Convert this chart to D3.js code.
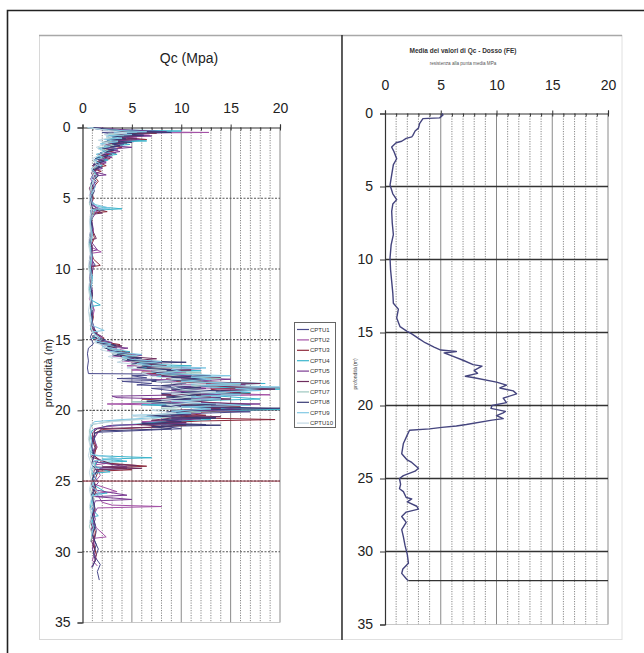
<!DOCTYPE html>
<html><head><meta charset="utf-8">
<script src="https://cdn.jsdelivr.net/npm/d3@7"></script>
<style>
html,body{margin:0;padding:0;background:#fff;}
svg{display:block;font-family:"Liberation Sans",Arial,sans-serif;}
</style></head>
<body><svg id="c" width="644" height="653"></svg>
<script>
// ---------------- DATA ----------------
const seriesNames = ["CPTU1","CPTU2","CPTU3","CPTU4","CPTU5","CPTU6","CPTU7","CPTU8","CPTU9","CPTU10"];
const seriesColors = ["#4a4a8c","#a452a6","#8e2a3c","#3bb5cc","#7b3c93","#6e2e5e","#9cc6bf","#383a74","#80c8e4","#c3d9e4"];
const xTicks = [0,5,10,15,20];
const yTicks = [0,5,10,15,20,25,30,35];

// [depth m, qc MPa]
const cptu1 = [[0,1.0],[0.15,2.5],[0.3,4.8],[0.35,2.0],[0.5,3.5],[0.6,5.5],[0.7,2.8],[0.9,3.8],[1.0,2.2],[1.2,4.2],[1.3,2.4],[1.5,3.6],[1.7,2.0],[1.9,3.0],[2.1,1.6],[2.3,2.4],[2.6,1.2],[2.8,2.0],[3.0,1.1],[3.3,1.6],[3.5,0.9],[3.8,1.4],[4.3,0.8],[4.8,1.0],[5.3,0.7],[5.75,1.6],[5.85,0.8],[7.0,0.9],[7.8,0.7],[8.5,1.0],[9.2,0.8],[9.75,1.3],[9.85,0.7],[11.2,0.8],[12.0,0.9],[12.8,1.1],[13.5,0.9],[14.2,1.2],[14.8,0.8],[15.3,1.1],[15.6,0.6],[16.0,0.5],[16.5,0.6],[17.0,0.5],[17.4,0.6],[17.45,10.5],[17.55,5.0],[17.7,6.5],[17.75,3.5],[17.85,9.5],[17.95,4.0],[18.1,7.0],[18.2,5.5],[18.35,11.0],[18.45,7.0],[18.6,9.0],[18.7,12.5],[18.8,8.0],[19.0,10.0],[19.1,14.0],[19.2,9.0],[19.4,12.0],[19.5,7.0],[19.65,14.0],[19.75,10.0],[19.9,16.0],[20.0,11.0],[20.1,17.0],[20.2,12.0],[20.35,9.0],[20.5,13.5],[20.6,9.0],[20.75,11.0],[20.85,6.0],[21.0,12.5],[21.1,8.0],[21.3,10.0],[21.45,5.0],[21.55,1.5],[22.0,1.2],[22.5,1.4],[23.0,1.0],[23.5,1.6],[24.0,1.2],[24.1,4.5],[24.2,1.5],[25.0,0.9],[25.6,1.2],[26.2,1.0],[27.0,1.3],[27.8,1.1],[28.5,1.4],[29.2,1.2],[29.8,1.6],[30.4,1.3],[30.9,1.8],[31.4,1.5],[32.0,1.7]];
const cptu2 = [[0,0.6],[0.15,1.8],[0.3,5.0],[0.35,12.8],[0.4,4.5],[0.55,6.8],[0.62,3.0],[0.75,5.5],[0.85,3.5],[1.0,5.2],[1.1,2.5],[1.3,4.0],[1.45,2.2],[1.6,3.6],[1.8,1.8],[2.0,2.8],[2.2,1.5],[2.4,2.4],[2.6,1.1],[2.8,1.9],[3.0,1.0],[3.3,1.6],[3.6,0.8],[4.2,1.2],[4.8,0.7],[5.5,0.9],[5.85,2.2],[5.95,0.9],[6.6,0.8],[7.3,1.1],[7.9,0.7],[8.5,1.0],[8.8,1.9],[8.9,0.8],[9.6,1.0],[10.4,0.8],[11.2,0.9],[12.1,0.7],[12.9,1.2],[13.7,0.9],[14.4,1.3],[14.9,1.6],[15.2,2.8],[15.35,1.8],[15.6,3.5],[15.8,2.5],[16.0,4.2],[16.15,3.0],[16.3,5.2],[16.5,4.0],[16.7,6.8],[16.85,4.5],[17.0,7.0],[17.15,5.0],[17.3,10.5],[17.4,6.5],[17.6,8.0],[17.75,12.0],[17.85,7.5],[18.0,10.0],[18.1,13.0],[18.25,9.0],[18.4,11.0],[18.5,17.5],[18.6,12.0],[18.8,14.0],[18.9,19.0],[19.0,11.0],[19.15,13.5],[19.3,8.0],[19.45,10.0],[19.55,2.5],[19.65,9.0],[19.8,12.5],[19.9,15.0],[20.05,10.0],[20.2,12.0],[20.35,7.5],[20.5,9.5],[20.65,11.0],[20.8,6.0],[20.95,8.5],[21.05,4.0],[21.2,2.0],[21.4,1.8],[22.0,1.1],[22.6,1.5],[23.2,1.0],[23.75,2.5],[23.85,1.3],[24.6,1.8],[25.2,1.1],[25.75,3.5],[25.85,1.4],[26.5,2.0],[26.7,3.0],[26.8,8.0],[26.9,1.5],[27.6,1.0],[28.3,1.4],[28.95,2.4],[29.05,1.1],[30.0,1.3],[30.6,1.0],[31.0,1.5]];
const cptu3 = [[0,0.8],[0.2,3.0],[0.4,7.5],[0.45,3.0],[0.6,6.0],[0.7,4.0],[0.85,6.5],[0.95,3.2],[1.1,4.5],[1.25,2.6],[1.4,4.0],[1.6,2.4],[1.8,3.4],[2.0,1.8],[2.2,2.8],[2.45,1.5],[2.7,2.4],[2.9,1.0],[3.1,1.9],[3.3,1.0],[3.8,1.6],[4.4,0.9],[5.0,1.1],[5.7,0.8],[5.95,2.5],[6.05,1.0],[7.0,0.9],[7.8,1.2],[8.5,0.8],[9.3,1.1],[9.75,1.8],[9.85,0.9],[10.9,0.8],[11.8,1.0],[12.6,0.8],[13.4,1.1],[14.1,0.9],[14.6,1.5],[14.9,2.2],[15.1,1.6],[15.35,3.8],[15.5,2.6],[15.7,3.0],[15.9,4.8],[16.05,3.5],[16.25,5.5],[16.4,4.2],[16.6,7.0],[16.75,5.0],[16.9,6.5],[17.05,5.5],[17.2,9.0],[17.3,6.0],[17.45,8.0],[17.6,11.0],[17.75,8.5],[17.9,12.0],[18.0,9.5],[18.15,16.0],[18.25,11.0],[18.4,20.0],[18.5,13.0],[18.65,14.0],[18.8,17.0],[18.9,11.0],[19.05,13.0],[19.2,6.0],[19.35,9.5],[19.5,13.5],[19.6,10.0],[19.75,16.0],[19.85,12.0],[19.95,20.0],[20.05,14.0],[20.2,10.0],[20.35,12.5],[20.5,9.0],[20.65,19.5],[20.75,12.0],[20.9,8.0],[21.05,10.5],[21.2,7.0],[21.35,2.0],[21.6,1.3],[22.0,1.0],[22.6,1.4],[23.2,1.2],[23.7,2.0],[23.95,6.5],[24.05,3.0],[24.2,5.0],[24.3,1.6],[25.0,1.2],[25.7,1.4],[26.3,1.0],[27.0,1.2],[27.8,0.9],[28.6,1.3],[29.4,1.1],[30.2,1.4],[30.8,1.2]];
const cptu4 = [[0,0.5],[0.15,2.0],[0.25,10.0],[0.32,3.5],[0.45,5.0],[0.55,2.5],[0.7,4.5],[0.8,2.5],[0.95,6.5],[1.05,3.0],[1.2,4.8],[1.35,2.2],[1.5,3.5],[1.7,2.0],[1.9,3.5],[2.1,1.4],[2.3,2.6],[2.5,1.4],[2.7,2.0],[3.0,1.0],[3.4,1.4],[4.0,0.8],[4.6,1.0],[5.2,0.9],[5.6,1.5],[5.75,4.0],[5.85,1.2],[6.6,0.9],[7.4,1.0],[8.2,0.7],[9.0,1.0],[9.8,0.8],[10.6,1.0],[11.4,0.7],[12.2,0.9],[12.55,1.8],[12.65,0.9],[13.6,1.0],[14.3,0.8],[14.7,1.4],[14.9,1.0],[15.15,2.6],[15.3,1.8],[15.5,3.5],[15.65,2.5],[15.85,4.8],[16.0,3.5],[16.2,5.2],[16.35,4.0],[16.55,6.5],[16.7,5.0],[16.85,11.0],[16.95,6.0],[17.1,8.0],[17.2,12.0],[17.3,7.0],[17.45,9.5],[17.6,7.5],[17.75,13.5],[17.85,10.5],[18.0,12.0],[18.1,18.5],[18.2,11.0],[18.35,13.0],[18.5,20.0],[18.6,15.0],[18.75,17.0],[18.9,12.0],[19.05,15.0],[19.2,18.0],[19.35,10.0],[19.5,12.0],[19.6,6.0],[19.7,9.0],[19.85,13.0],[19.95,20.0],[20.05,12.0],[20.2,9.0],[20.35,7.5],[20.5,9.5],[20.65,13.0],[20.8,8.0],[20.95,6.0],[21.1,2.5],[21.4,1.0],[21.7,0.8],[22.2,1.0],[22.8,0.7],[23.2,1.2],[23.35,7.0],[23.45,2.0],[23.6,4.5],[23.7,1.3],[24.0,1.3],[24.35,2.8],[24.45,1.0],[25.3,1.2],[25.85,2.5],[25.95,1.0],[26.9,0.8],[27.45,1.6],[27.55,0.9],[28.3,1.2],[28.6,1.0]];
const cptu5 = [[0,1.2],[0.15,4.0],[0.3,8.5],[0.35,3.5],[0.5,5.0],[0.6,7.0],[0.7,4.0],[0.85,5.8],[0.95,3.0],[1.1,4.2],[1.25,2.4],[1.4,5.0],[1.55,2.6],[1.7,3.8],[1.9,1.9],[2.1,3.0],[2.3,1.6],[2.5,2.4],[2.7,1.2],[2.9,2.0],[3.1,1.0],[3.35,2.4],[3.45,1.0],[4.1,1.3],[4.7,0.8],[5.3,1.0],[5.9,1.5],[6.5,0.9],[7.2,1.1],[8.0,0.8],[8.65,1.5],[8.75,0.9],[9.9,1.1],[10.7,0.8],[11.6,1.0],[12.5,0.8],[13.3,1.0],[14.0,0.8],[14.5,1.2],[14.8,2.0],[15.0,1.5],[15.2,3.0],[15.4,2.0],[15.6,4.6],[15.75,3.0],[15.95,4.0],[16.1,6.0],[16.25,4.5],[16.45,5.5],[16.6,8.0],[16.75,6.0],[16.9,7.0],[17.05,12.0],[17.15,8.5],[17.35,9.5],[17.5,11.0],[17.6,8.0],[17.8,15.0],[17.9,12.0],[18.05,13.0],[18.2,16.5],[18.3,10.0],[18.45,12.5],[18.6,9.0],[18.75,11.5],[18.85,14.0],[19.0,3.0],[19.1,3.5],[19.25,11.5],[19.4,9.0],[19.55,18.0],[19.65,12.0],[19.8,14.0],[19.95,16.0],[20.05,10.5],[20.2,12.0],[20.35,7.5],[20.5,9.0],[20.6,12.0],[20.75,8.5],[20.9,10.5],[21.05,3.0],[21.3,1.2],[21.8,1.2],[22.4,0.9],[23.0,1.2],[23.6,1.0],[24.0,4.5],[24.1,1.8],[24.6,1.1],[25.1,1.6],[25.6,1.0],[26.0,4.5],[26.1,1.3],[26.3,5.0],[26.4,1.3],[27.0,1.0],[27.7,1.3],[28.4,0.9],[29.1,1.2],[29.8,1.0],[30.5,1.4],[31.1,0.9]];
const cptu6 = [[0,0.7],[0.15,2.2],[0.35,6.0],[0.42,3.0],[0.55,4.8],[0.65,2.6],[0.8,5.5],[0.9,3.0],[1.05,3.8],[1.2,2.0],[1.35,3.2],[1.5,2.0],[1.7,2.6],[1.9,1.6],[2.1,2.4],[2.3,1.2],[2.5,1.8],[2.7,1.0],[2.9,1.6],[3.2,0.9],[3.6,1.2],[4.3,0.7],[4.9,1.0],[5.6,0.8],[6.05,2.0],[6.15,0.8],[7.1,0.9],[7.85,1.4],[7.95,0.8],[8.6,1.0],[9.4,0.8],[10.2,1.0],[11.0,0.8],[11.9,0.9],[12.8,0.8],[13.6,1.0],[14.4,0.9],[14.8,1.8],[15.0,1.2],[15.25,2.4],[15.45,4.0],[15.6,2.8],[15.8,3.4],[16.0,5.0],[16.15,3.8],[16.35,7.5],[16.5,5.0],[16.7,6.0],[16.85,8.5],[17.0,6.5],[17.15,11.0],[17.25,7.0],[17.4,9.0],[17.55,8.0],[17.7,14.0],[17.8,9.5],[17.95,11.0],[18.1,18.0],[18.2,13.0],[18.35,15.0],[18.5,19.5],[18.6,14.0],[18.75,16.0],[18.9,8.0],[19.05,11.0],[19.2,15.0],[19.3,11.0],[19.45,13.0],[19.6,17.0],[19.7,12.0],[19.85,14.0],[20.0,9.0],[20.15,11.5],[20.3,8.0],[20.45,14.0],[20.55,9.0],[20.7,7.0],[20.85,10.5],[21.0,5.5],[21.15,9.0],[21.3,1.5],[21.6,1.0],[22.1,1.0],[22.7,1.3],[23.3,0.9],[23.8,3.0],[23.9,5.5],[24.0,2.0],[24.1,6.0],[24.2,1.2],[25.2,0.9],[25.8,1.3],[26.4,1.0],[27.1,1.2],[27.8,0.8],[28.5,1.1],[29.2,0.9],[29.8,1.2]];
const cptu7 = [[0,0.9],[0.15,3.0],[0.35,5.5],[0.45,2.6],[0.6,4.2],[0.75,2.4],[0.9,3.6],[1.05,2.0],[1.25,3.2],[1.45,1.6],[1.65,2.6],[1.9,1.4],[2.1,2.2],[2.4,1.1],[2.7,1.6],[3.0,1.0],[3.5,1.5],[4.0,0.8],[4.7,1.0],[5.4,0.7],[6.0,1.1],[6.8,0.8],[7.6,0.9],[8.4,0.7],[9.2,0.9],[10.0,0.7],[10.8,0.9],[11.7,0.7],[12.6,0.9],[13.4,0.7],[14.2,0.9],[14.7,1.3],[15.0,2.0],[15.2,1.4],[15.45,3.2],[15.6,2.2],[15.8,4.0],[15.95,3.0],[16.15,5.5],[16.3,4.0],[16.5,4.8],[16.65,7.5],[16.8,5.5],[16.95,10.0],[17.05,6.0],[17.2,8.0],[17.35,12.0],[17.45,8.0],[17.6,10.0],[17.75,14.0],[17.85,9.0],[18.0,11.5],[18.15,16.0],[18.25,11.0],[18.4,12.0],[18.55,9.5],[18.7,14.5],[18.8,10.0],[18.95,11.5],[19.1,8.5],[19.25,12.0],[19.4,5.0],[19.55,11.0],[19.7,13.0],[19.85,8.0],[20.0,10.0],[20.15,12.0],[20.3,7.0],[20.45,9.0],[20.6,6.5],[20.75,3.0],[21.0,1.0],[21.4,0.7],[22.1,0.7],[22.7,0.9],[23.3,0.8],[23.9,1.3],[24.4,0.9],[25.0,1.1],[25.6,0.8],[26.3,1.2],[27.0,0.8],[27.6,1.0],[28.2,0.7],[28.8,1.0],[29.3,0.8]];
const cptu8 = [[0,1.1],[0.2,3.5],[0.35,9.0],[0.42,4.0],[0.55,6.2],[0.65,3.0],[0.8,4.4],[0.9,2.5],[1.05,5.0],[1.15,3.0],[1.3,3.8],[1.45,2.0],[1.6,3.2],[1.8,1.8],[2.0,2.6],[2.2,1.3],[2.4,2.2],[2.6,1.1],[2.8,1.8],[3.0,1.0],[3.4,1.6],[3.9,0.9],[4.5,1.2],[5.1,0.8],[5.7,1.0],[6.3,0.8],[7.0,1.0],[7.8,0.7],[8.6,0.9],[9.4,0.7],[10.2,0.9],[11.0,0.7],[11.8,1.0],[12.6,0.8],[13.3,1.0],[14.0,0.9],[14.5,1.5],[14.8,1.0],[15.0,2.3],[15.2,1.5],[15.4,3.4],[15.55,2.2],[15.75,2.8],[15.95,4.5],[16.1,3.0],[16.3,6.0],[16.45,4.0],[16.6,10.5],[16.7,5.0],[16.85,7.0],[17.0,5.5],[17.15,9.5],[17.25,7.0],[17.4,8.0],[17.55,13.0],[17.65,9.0],[17.8,12.5],[17.95,7.0],[18.1,10.5],[18.25,8.0],[18.4,12.0],[18.5,9.0],[18.65,15.0],[18.75,10.0],[18.9,12.0],[19.05,8.5],[19.2,11.0],[19.35,6.5],[19.5,9.0],[19.6,13.5],[19.7,8.0],[19.85,20.0],[19.95,13.0],[20.1,8.5],[20.25,11.0],[20.4,6.5],[20.55,13.5],[20.65,8.0],[20.8,10.0],[20.95,6.0],[21.05,14.0],[21.15,7.0],[21.3,9.0],[21.45,2.0],[21.6,1.2],[22.0,1.2],[22.6,0.9],[23.2,1.2],[23.8,0.9],[24.3,1.5],[24.8,1.0],[25.4,1.3],[26.0,0.9],[26.7,1.2],[27.4,1.0],[28.1,1.3],[28.8,1.0],[29.5,1.4],[30.1,1.1],[30.6,1.3],[31.1,1.0]];
const cptu9 = [[0,0.6],[0.15,2.0],[0.3,6.5],[0.38,3.2],[0.5,5.0],[0.6,2.4],[0.75,4.0],[0.85,2.2],[1.0,3.6],[1.15,1.8],[1.35,2.8],[1.5,1.6],[1.7,2.4],[1.9,1.4],[2.1,2.0],[2.3,1.2],[2.6,1.8],[2.9,0.9],[3.2,1.3],[3.6,0.9],[4.2,1.3],[4.8,0.8],[5.4,1.0],[5.7,2.8],[5.8,0.9],[6.8,0.8],[7.6,1.0],[8.4,0.8],[9.2,0.9],[10.0,0.8],[10.8,1.0],[11.6,0.8],[12.4,1.0],[13.2,0.8],[14.0,1.0],[14.35,2.2],[14.45,1.0],[14.9,1.8],[15.1,1.3],[15.3,2.9],[15.5,2.0],[15.7,3.8],[15.85,2.8],[16.05,6.0],[16.2,4.0],[16.4,5.0],[16.55,8.0],[16.7,5.5],[16.85,7.0],[17.0,12.5],[17.1,9.0],[17.25,10.0],[17.4,7.5],[17.55,15.0],[17.65,11.0],[17.8,13.0],[17.95,10.0],[18.1,16.0],[18.2,12.0],[18.35,20.0],[18.45,15.5],[18.6,18.0],[18.75,12.0],[18.9,16.0],[19.05,10.5],[19.2,14.0],[19.35,9.0],[19.5,12.0],[19.65,17.0],[19.75,10.0],[19.9,13.0],[20.05,9.0],[20.2,11.0],[20.35,5.0],[20.5,8.0],[20.65,4.0],[20.8,1.2],[21.2,0.8],[21.9,0.8],[22.5,1.0],[23.1,0.8],[23.45,4.0],[23.55,1.2],[24.2,0.9],[24.8,1.4],[25.4,0.9],[25.95,2.0],[26.05,0.9],[26.9,1.1],[27.6,0.8],[28.3,1.1],[28.9,0.9]];
const cptu10 = [[0,0.5],[0.2,2.5],[0.4,4.5],[0.5,2.2],[0.7,3.0],[0.9,1.6],[1.1,2.6],[1.4,1.4],[1.8,2.2],[2.2,1.0],[2.6,1.4],[3.0,0.9],[3.6,1.2],[4.3,0.8],[5.0,0.7],[5.8,0.9],[6.6,0.7],[7.4,0.8],[8.2,0.6],[9.0,0.8],[9.8,0.6],[10.6,0.8],[11.4,0.6],[12.2,0.8],[13.0,0.6],[13.8,0.8],[14.5,1.0],[14.9,1.6],[15.2,1.2],[15.5,2.5],[15.7,1.8],[16.0,3.5],[16.2,2.6],[16.4,4.5],[16.6,3.5],[16.8,6.0],[17.0,4.5],[17.2,8.5],[17.35,6.0],[17.6,7.0],[17.8,10.0],[17.95,7.5],[18.15,12.5],[18.3,9.0],[18.5,10.0],[18.7,13.5],[18.85,9.0],[19.05,11.0],[19.25,8.0],[19.45,12.0],[19.6,8.5],[19.8,10.0],[20.0,7.0],[20.2,9.5],[20.4,5.0],[20.6,7.0],[20.8,3.0],[21.0,0.8],[21.5,0.8],[22.0,0.6],[22.6,0.8],[23.2,0.6],[23.8,0.9],[24.4,0.7],[25.0,0.9],[25.6,0.7],[26.2,0.9],[26.8,0.7],[27.4,0.9],[28.0,0.7]];
const cptuSeries = [cptu1,cptu2,cptu3,cptu4,cptu5,cptu6,cptu7,cptu8,cptu9,cptu10];
// stray horizontal trace of CPTU3 at 25 m (qc 0 -> 20)
const cptu3Stray = [[25,0],[25,20]];

// mean profile (right chart)
const meanQc = [[0,5.1],[0.1,5.2],[0.3,4.9],[0.35,3.4],[0.7,3.1],[1.0,3.0],[1.2,2.7],[1.5,2.5],[1.6,2.4],[1.7,1.9],[1.9,1.5],[2.0,1.0],[2.3,0.6],[2.6,0.8],[3.1,1.05],[3.5,0.75],[4.2,0.6],[4.9,0.45],[5.5,0.7],[5.9,1.05],[6.2,0.7],[6.7,0.6],[7.5,0.65],[8.3,0.75],[9.0,0.55],[9.9,0.45],[10.7,0.5],[11.5,0.6],[12.3,0.7],[13.0,0.75],[13.4,1.2],[14.0,1.05],[14.6,1.35],[14.9,1.95],[15.1,2.4],[15.4,3.0],[15.7,3.6],[16.0,4.4],[16.2,5.0],[16.3,6.4],[16.4,5.3],[16.6,6.0],[16.9,7.0],[17.2,7.9],[17.3,8.7],[17.6,8.0],[17.8,8.3],[18.0,7.2],[18.1,8.0],[18.4,10.0],[18.6,10.9],[18.8,10.3],[19.0,11.5],[19.2,11.8],[19.5,10.6],[19.8,10.9],[20.0,9.6],[20.2,9.5],[20.4,10.8],[20.5,10.6],[20.7,10.0],[20.9,10.6],[21.0,9.6],[21.3,7.3],[21.4,6.4],[21.5,5.1],[21.6,4.0],[21.7,2.2],[22.1,1.95],[22.6,1.65],[23.3,1.5],[23.7,1.95],[23.9,2.4],[24.3,3.0],[24.5,2.7],[24.8,1.65],[25.0,1.3],[25.4,1.4],[25.7,1.3],[25.9,1.65],[26.3,1.9],[26.4,2.4],[26.6,2.0],[26.9,2.85],[27.1,3.0],[27.3,1.9],[27.6,1.5],[28.0,1.9],[28.5,1.5],[29.0,1.65],[29.6,1.8],[30.2,2.0],[30.8,2.1],[31.2,1.6],[31.5,1.5],[31.9,1.95],[32.0,2.1]];
const meanTail = [[32.0,2.1],[32.0,20]];

// ---------------- DRAW ----------------
const svg = d3.select("#c");
const FONT = '"Liberation Sans",Arial,sans-serif';

svg.append("path").attr("d","M7.5,653 V10.5 H644").attr("fill","none").attr("stroke","#222").attr("stroke-width",1.6);
svg.append("rect").attr("x",39.5).attr("y",35.5).attr("width",302).attr("height",604).attr("fill","#fff").attr("stroke","#d8d8d8");
svg.append("rect").attr("x",342).attr("y",35.5).attr("width",280).attr("height",604).attr("fill","#fff").attr("stroke","#e0e0e0");
svg.append("line").attr("x1",39).attr("x2",622).attr("y1",35.5).attr("y2",35.5).attr("stroke","#a8a8a8").attr("stroke-width",1.5);
svg.append("line").attr("x1",342).attr("x2",342).attr("y1",35).attr("y2",640).attr("stroke","#222").attr("stroke-width",1.4);

function panel(opt){
  const x = d3.scaleLinear().domain([0,20]).range(opt.xr);
  const y = d3.scaleLinear().domain([0,35]).range(opt.yr);
  const g = svg.append("g");
  const minor = d3.range(1,21);
  g.selectAll(".vg").data(minor).join("line")
    .attr("x1",d=>x(d)).attr("x2",d=>x(d)).attr("y1",y(0)).attr("y2",y(35))
    .attr("stroke",d=>d%5===0?"#8a8a8a":"#6a6a6a")
    .attr("stroke-width",d=>d%5===0?1:0.8)
    .attr("stroke-dasharray",d=>d%5===0?null:"1.2,1.3");
  g.selectAll(".hg").data(yTicks.filter(t=>t>0&&t<35)).join("line")
    .attr("x1",x(0)).attr("x2",x(20)).attr("y1",d=>y(d)).attr("y2",d=>y(d))
    .attr("stroke",opt.hColor).attr("stroke-width",opt.hWidth)
    .attr("stroke-dasharray",opt.hDash);
  g.append("line").attr("x1",x(0)).attr("x2",x(20)).attr("y1",y(35)).attr("y2",y(35)).attr("stroke","#bbb").attr("stroke-width",0.8);
  const top = g.append("g").attr("transform",`translate(0,${y(0)})`)
    .call(d3.axisTop(x).tickValues(xTicks).tickSize(3).tickPadding(opt.topPad));
  top.select(".domain").attr("stroke","#333").attr("stroke-width",1.2);
  top.selectAll(".tick line").attr("stroke","#333");
  top.selectAll("text").attr("font-family",FONT).attr("font-size",14).attr("fill","#222");
  g.append("g").attr("transform",`translate(0,${y(0)})`)
    .call(d3.axisBottom(x).tickValues(minor).tickSize(3).tickFormat(""))
    .call(s=>{s.select(".domain").remove(); s.selectAll("line").attr("stroke","#333");});
  const left = g.append("g").attr("transform",`translate(${x(0)},0)`)
    .call(d3.axisLeft(y).tickValues(yTicks).tickSize(5).tickPadding(7));
  left.select(".domain").attr("stroke","#333").attr("stroke-width",1.2);
  left.selectAll(".tick line").attr("stroke","#333");
  left.selectAll("text").attr("font-family",FONT).attr("font-size",14).attr("fill","#222");
  return {x,y,g};
}

// LEFT
const L = panel({xr:[82.5,280],yr:[127.5,622.5],topPad:12,hColor:"#555",hWidth:1.1,hDash:"2,1.5"});
const lineL = d3.line().x(d=>L.x(d[1])).y(d=>L.y(d[0]));
cptuSeries.forEach((s,i)=>{
  L.g.append("path").datum(s).attr("d",lineL).attr("fill","none")
    .attr("stroke",seriesColors[i]).attr("stroke-width",1).attr("stroke-linejoin","round");
});
L.g.append("path").datum(cptu3Stray).attr("d",lineL).attr("fill","none").attr("stroke",seriesColors[2]).attr("stroke-width",1);

svg.append("text").attr("x",189).attr("y",63).attr("text-anchor","middle")
  .attr("font-family",FONT).attr("font-size",14).attr("fill","#222").text("Qc (Mpa)");
svg.append("text").attr("transform","translate(52,373) rotate(-90)").attr("text-anchor","middle")
  .attr("font-family",FONT).attr("font-size",11).attr("fill","#222").text("profondità (m)");

const lg = svg.append("g");
lg.append("rect").attr("x",294.5).attr("y",322.5).attr("width",41).attr("height",105).attr("fill","#fff").attr("stroke","#666").attr("stroke-width",1);
seriesNames.forEach((n,i)=>{
  const yy = 329.5 + i*10.4;
  lg.append("line").attr("x1",297).attr("x2",309).attr("y1",yy).attr("y2",yy).attr("stroke",seriesColors[i]).attr("stroke-width",1.2);
  lg.append("text").attr("x",310).attr("y",yy+2).attr("font-family",FONT).attr("font-size",6).attr("fill","#333").text(n);
});

// RIGHT
const R = panel({xr:[385,608],yr:[113.5,624.5],topPad:21,hColor:"#333",hWidth:1.3,hDash:null});
const lineR = d3.line().x(d=>R.x(d[1])).y(d=>R.y(d[0]));
R.g.append("path").datum(meanQc).attr("d",lineR).attr("fill","none").attr("stroke","#45457e").attr("stroke-width",1.4).attr("stroke-linejoin","round");
R.g.append("path").datum(meanTail).attr("d",lineR).attr("fill","none").attr("stroke","#333").attr("stroke-width",1.3);

svg.append("text").attr("x",463).attr("y",53).attr("text-anchor","middle")
  .attr("font-family",FONT).attr("font-size",6.5).attr("font-weight","bold").attr("fill","#333").text("Media dei valori di Qc - Dosso (FE)");
svg.append("text").attr("x",463).attr("y",65).attr("text-anchor","middle")
  .attr("font-family",FONT).attr("font-size",4.6).attr("fill","#555").text("resistenza alla punta media MPa");
svg.append("text").attr("transform","translate(357,374) rotate(-90)").attr("text-anchor","middle")
  .attr("font-family",FONT).attr("font-size",5).attr("fill","#444").text("profondità (m)");
</script></body></html>
